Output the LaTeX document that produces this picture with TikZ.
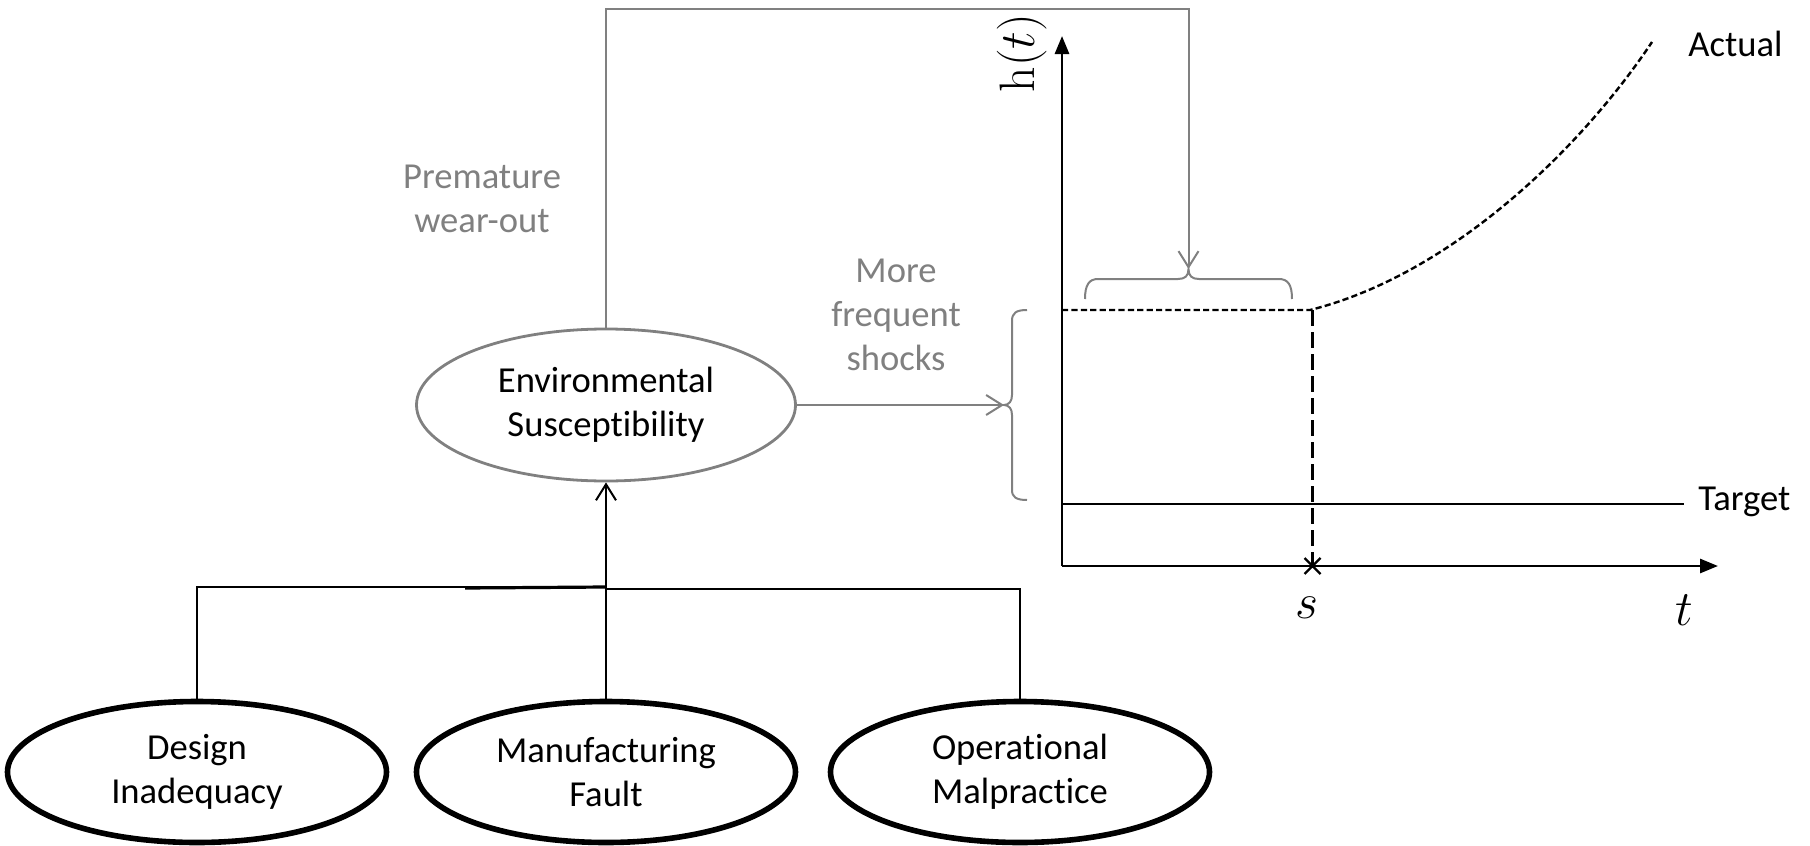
\documentclass[tikz,border=0pt]{standalone}
\usepackage[no-math]{fontspec}
\setmainfont{Carlito}[Ligatures={NoCommon,NoRare}]
\usetikzlibrary{shapes.geometric,arrows.meta}
\definecolor{linegray}{HTML}{808080}
\definecolor{textgray}{HTML}{808080}
\begin{document}
\begin{tikzpicture}[x=0.5pt,y=-0.5pt,
  font=\fontsize{18.3pt}{22pt}\selectfont,
  cause/.style={ellipse, draw=black, line width=2.8pt, minimum width=189.5pt,
    minimum height=70.5pt, inner sep=0pt, align=center},
  mechanism/.style={ellipse, draw=linegray, line width=1.4pt, minimum width=189.5pt,
    minimum height=76pt, inner sep=0pt, align=center},
  note/.style={text=textgray, align=center, inner sep=0pt},
  plain/.style={inner sep=0pt},
  mathlabel/.style={inner sep=0pt, font=\fontsize{23pt}{26pt}\selectfont},
  tree/.style={line width=1pt},
  grayline/.style={draw=linegray, line width=1pt},
  openhead/.style={-{Straight Barb[length=8pt,width=10pt]}},
  axis/.style={line width=1.4pt, -{Triangle[length=9pt,width=7pt]}},
  shortdash/.style={line width=1.2pt, dash pattern=on 3.1pt off 1.6pt},
  longdash/.style={line width=1.2pt, dash pattern=on 8pt off 3pt},
]
\useasboundingbox (0,0) rectangle (1810,846);

% ---- causes and mechanism ----
\node[cause] (design) at (197,772) {Design\\Inadequacy};
\node[cause] (manuf)  at (606,772) {Manufacturing\\Fault};
\node[cause] (oper)   at (1020,772) {Operational\\Malpractice};
\node[mechanism] (env) at (606,405) {Environmental\\Susceptibility};

\coordinate (jl) at (606,587);
\coordinate (jr) at (606,589);
\coordinate (jthick) at (465,588);
\draw[tree] (design.north) |- (jl);
\draw[tree] (oper.north) |- (jr);
\draw[line width=1.6pt] (jthick) -- (jl);
\draw[tree, openhead] (manuf.north) -- (env.south);

% ---- hazard plot ----
\coordinate (origin) at (1062,566);
\coordinate (ytip) at (1062,36);
\coordinate (xtip) at (1718,566);
\draw[axis] (origin) -- (ytip);
\draw[axis] (origin) -- (xtip);
\node[mathlabel, rotate=90] (hlabel) at (1022,53) {$\mathrm{h}(t)$};
\node[mathlabel] (slabel) at (1307,608) {$s$};
\node[mathlabel] (tlabel) at (1684,610) {$t$};

\coordinate (tgtL) at (1062,504);
\coordinate (tgtR) at (1684,504);
\draw[line width=1.2pt] (tgtL) -- (tgtR);
\node[plain, anchor=west] (target) at (1698,502) {Target};

\coordinate (actL) at (1062,310);
\coordinate (knee) at (1310,310);
\coordinate (actEnd) at (1652,42);
\draw[shortdash] (actL) -- (knee)
  .. controls (1450,275) and (1580,150) .. (actEnd);
\node[plain, anchor=west] (actual) at (1688,44) {Actual};

\coordinate (sdrop) at (1312.5,310);
\coordinate (sfoot) at (1312.5,566);
\draw[longdash] (sdrop) -- (sfoot);
\draw[line width=1.2pt] (1304.5,558) -- (1320.5,574) (1304.5,574) -- (1320.5,558);

% ---- braces ----
\coordinate (topTip) at (1188.5,269);
\draw[grayline] (1085,299) .. controls (1085,285) and (1089,279) .. (1098,279)
  -- (1178,279) .. controls (1185,279) and (1188.5,276) .. (topTip)
  .. controls (1188.5,276) and (1192,279) .. (1199,279)
  -- (1279,279) .. controls (1288,279) and (1292,285) .. (1292,299);

\coordinate (sideTip) at (1004,405);
\draw[grayline] (1027,310) .. controls (1016,310) and (1012,313) .. (1012,321)
  -- (1012,395) .. controls (1012,401) and (1009,405) .. (sideTip)
  .. controls (1009,405) and (1012,409) .. (1012,415)
  -- (1012,490) .. controls (1012,497) and (1016,500) .. (1027,500);

% ---- consequences ----
\coordinate (frameL) at (606,9);
\coordinate (frameR) at (1188.5,9);
\draw[grayline, openhead] (env.north) -- (frameL) -- (frameR) -- (topTip);
\draw[grayline, openhead] (env.east) -- (sideTip);

\node[note] (wear) at (482,199) {Premature\\wear-out};
\node[note] (shock) at (896,315) {More\\frequent\\shocks};
\end{tikzpicture}
\end{document}
